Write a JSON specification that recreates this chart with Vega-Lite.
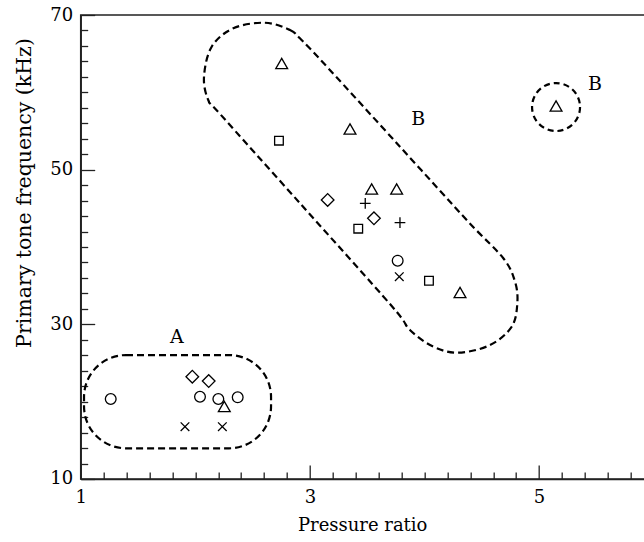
{
  "$schema": "https://vega.github.io/schema/vega-lite/v6.json",
  "width": 573,
  "height": 464,
  "autosize": {"type": "none"},
  "padding": {"left": 80.7, "top": 15, "right": 0, "bottom": 63},
  "background": "white",
  "config": {
    "view": {"stroke": "#222", "strokeWidth": 1.5},
    "font": "DejaVu Serif",
    "axis": {"grid": false, "domainColor": "#222", "domainWidth": 1.5, "tickColor": "#222", "tickWidth": 1.3, "labelColor": "black", "titleColor": "black", "labelFont": "DejaVu Serif", "titleFont": "DejaVu Serif", "labelFontSize": 18, "titleFontSize": 18, "titleFontWeight": "normal", "labelFlush": false, "labelOverlap": false}
  },
  "datasets": {
    "points": [
      {"pr": 1.262, "f": 20.34, "s": "circle"},
      {"pr": 1.974, "f": 23.23, "s": "diamond"},
      {"pr": 2.117, "f": 22.67, "s": "diamond"},
      {"pr": 2.041, "f": 20.64, "s": "circle"},
      {"pr": 2.201, "f": 20.34, "s": "circle"},
      {"pr": 2.253, "f": 19.37, "s": "triangle"},
      {"pr": 2.370, "f": 20.56, "s": "circle"},
      {"pr": 1.910, "f": 16.76, "s": "x"},
      {"pr": 2.236, "f": 16.76, "s": "x"},
      {"pr": 2.754, "f": 63.73, "s": "triangle"},
      {"pr": 2.730, "f": 53.75, "s": "square"},
      {"pr": 3.350, "f": 55.26, "s": "triangle"},
      {"pr": 3.539, "f": 47.5, "s": "triangle"},
      {"pr": 3.757, "f": 47.5, "s": "triangle"},
      {"pr": 3.155, "f": 46.08, "s": "diamond"},
      {"pr": 3.483, "f": 45.65, "s": "plus"},
      {"pr": 3.559, "f": 43.71, "s": "diamond"},
      {"pr": 3.422, "f": 42.37, "s": "square"},
      {"pr": 3.786, "f": 43.14, "s": "plus"},
      {"pr": 3.766, "f": 38.23, "s": "circle"},
      {"pr": 3.780, "f": 36.16, "s": "x"},
      {"pr": 4.039, "f": 35.64, "s": "square"},
      {"pr": 4.310, "f": 34.12, "s": "triangle"},
      {"pr": 5.148, "f": 58.23, "s": "triangle"}
    ],
    "capsule": [
      {"i": 1, "pr": 2.608, "f": 69.0},
      {"i": 2, "pr": 2.826, "f": 68.06},
      {"i": 3, "pr": 2.913, "f": 66.99},
      {"i": 4, "pr": 3.161, "f": 63.11},
      {"i": 5, "pr": 3.786, "f": 52.97},
      {"i": 6, "pr": 4.382, "f": 43.27},
      {"i": 7, "pr": 4.688, "f": 38.54},
      {"i": 8, "pr": 4.790, "f": 35.51},
      {"i": 9, "pr": 4.810, "f": 32.72},
      {"i": 10, "pr": 4.761, "f": 29.69},
      {"i": 11, "pr": 4.572, "f": 27.32},
      {"i": 12, "pr": 4.295, "f": 26.33},
      {"i": 13, "pr": 4.077, "f": 27.11},
      {"i": 14, "pr": 3.873, "f": 29.27},
      {"i": 15, "pr": 3.714, "f": 32.37},
      {"i": 16, "pr": 2.914, "f": 45.65},
      {"i": 17, "pr": 2.216, "f": 57.2},
      {"i": 18, "pr": 2.113, "f": 59.01},
      {"i": 19, "pr": 2.076, "f": 62.02},
      {"i": 20, "pr": 2.143, "f": 65.9},
      {"i": 21, "pr": 2.332, "f": 68.28}
    ],
    "regionA": [
      {"x1": 1.029, "x2": 2.661, "y1": 26.03, "y2": 13.97}
    ],
    "ringB": [
      {"pr": 5.148, "f": 58.1}
    ],
    "labels": [
      {"pr": 1.840, "f": 28.36, "t": "A"},
      {"pr": 3.946, "f": 56.55, "t": "B"},
      {"pr": 5.488, "f": 61.08, "t": "B"}
    ]
  },
  "layer": [
    {
      "data": {"name": "points"},
      "mark": {"type": "point", "filled": false, "stroke": "black", "strokeWidth": 1.3, "opacity": 1},
      "encoding": {
        "x": {"field": "pr", "type": "quantitative", "scale": {"domain": [1, 6], "nice": false, "zero": false},
              "axis": {"orient": "bottom", "values": [1,1.2,1.4,1.6,1.8,2,2.2,2.4,2.6,2.8,3,3.2,3.4,3.6,3.8,4,4.2,4.4,4.6,4.8,5,5.2,5.4,5.6,5.8,6],
                       "tickCount": 100, "tickMinStep": 0.1,
                       "labelExpr": "indexof([1,3,5], datum.value) >= 0 ? format(datum.value, 'd') : ''",
                       "ticks": true, "tickSize": {"expr": "indexof([1,3,5], datum.value) >= 0 ? -14 : -7"},
                       "domain": true, "labelPadding": 24,
                       "title": "Pressure ratio", "titleX": 281.5, "titleY": 47, "titleBaseline": "middle"}},
        "y": {"field": "f", "type": "quantitative", "scale": {"domain": [10, 70], "nice": false, "zero": false},
              "axis": {"orient": "left", "values": [10,12,14,16,18,20,22,24,26,28,30,32,34,36,38,40,42,44,46,48,50,52,54,56,58,60,62,64,66,68,70],
                       "tickCount": 100, "format": "d",
                       "labelExpr": "indexof([10,30,50,70], datum.value) >= 0 ? datum.label : ''",
                       "ticks": true, "tickSize": {"expr": "indexof([10,30,50,70], datum.value) >= 0 ? -14 : -7"},
                       "domain": true, "labelPadding": 22,
                       "title": "Primary tone frequency (kHz)", "titleFontSize": 20.5, "titleAngle": -90, "titleX": -55.7, "titleY": 177.5, "titleBaseline": "middle", "titleAlign": "center"}},
        "shape": {"field": "s", "type": "nominal", "legend": null,
                  "scale": {"domain": ["circle", "diamond", "triangle", "square", "plus", "x"],
                            "range": ["circle", "diamond", "triangle-up", "square", "M-1,0H1M0,-1V1", "M-1,-1L1,1M-1,1L1,-1"]}},
        "size": {"field": "s", "type": "nominal", "legend": null,
                 "scale": {"type": "ordinal", "domain": ["circle", "diamond", "triangle", "square", "plus", "x"],
                           "range": [115, 160, 140, 75, 115, 75]}}
      }
    },
    {
      "data": {"name": "regionA"},
      "mark": {"type": "rect", "fillOpacity": 0, "stroke": "black", "strokeWidth": 2.2, "strokeDash": [7, 4], "cornerRadius": 42},
      "encoding": {
        "x": {"field": "x1", "type": "quantitative"},
        "x2": {"field": "x2"},
        "y": {"field": "y1", "type": "quantitative"},
        "y2": {"field": "y2"}
      }
    },
    {
      "data": {"name": "capsule"},
      "mark": {"type": "line", "interpolate": "cardinal-closed", "stroke": "black", "strokeWidth": 2.2, "strokeDash": [7, 4]},
      "encoding": {
        "x": {"field": "pr", "type": "quantitative"},
        "y": {"field": "f", "type": "quantitative"},
        "order": {"field": "i", "type": "quantitative"}
      }
    },
    {
      "data": {"name": "ringB"},
      "mark": {"type": "point", "shape": "circle", "size": 2304, "filled": false, "stroke": "black", "strokeWidth": 2.2, "strokeDash": [6, 4], "opacity": 1},
      "encoding": {
        "x": {"field": "pr", "type": "quantitative"},
        "y": {"field": "f", "type": "quantitative"}
      }
    },
    {
      "data": {"name": "labels"},
      "mark": {"type": "text", "font": "DejaVu Serif", "fontSize": 19, "color": "black", "align": "center", "baseline": "middle"},
      "encoding": {
        "x": {"field": "pr", "type": "quantitative"},
        "y": {"field": "f", "type": "quantitative"},
        "text": {"field": "t"}
      }
    }
  ]
}
